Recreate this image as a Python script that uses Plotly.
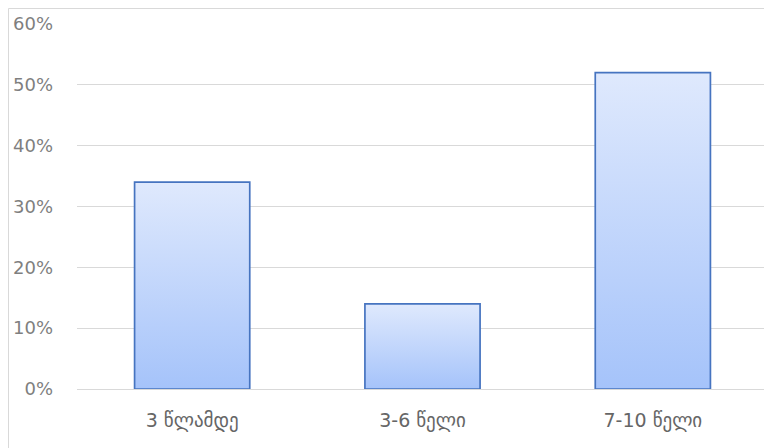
import plotly.graph_objects as go

categories = ["3 წლამდე", "3-6 წელი", "7-10 წელი"]
values = [0.34, 0.14, 0.52]
y_tickvals = [0, 0.1, 0.2, 0.3, 0.4, 0.5, 0.6]
y_ticktext = ["0%", "10%", "20%", "30%", "40%", "50%", "60%"]

W, H = 764, 440
L, R, T, B = 69, 4, 16, 59
half = 0.25

fig = go.Figure()
for i, v in enumerate(values):
    fig.add_trace(go.Scatter(
        x=[i - half, i - half, i + half, i + half, i - half],
        y=[0, v, v, 0, 0],
        mode="lines",
        fill="toself",
        line=dict(color="#4674c0", width=1.7),
        fillgradient=dict(type="vertical",
                          colorscale=[[0, "#a5c3fa"], [1, "#dfe9fd"]]),
        hoverinfo="skip",
        showlegend=False,
    ))

pw = W - L - R
ph = H - T - B
fig.add_shape(type="rect", xref="paper", yref="paper",
              x0=(0.5 - L) / pw, x1=(W + 20 - L) / pw,
              y0=-(B + 20) / ph, y1=1 + (T - 0.5) / ph,
              line=dict(color="#d9d9d9", width=1), layer="below")

yfont = dict(family="DejaVu Sans", size=18, color="#7f7f7f")
xfont = dict(family="DejaVu Sans", size=19, color="#666666")
fig.update_layout(
    width=W, height=H,
    margin=dict(l=L, r=R, t=T, b=B, autoexpand=False),
    paper_bgcolor="white", plot_bgcolor="white",
    font=yfont,
    xaxis=dict(range=[-0.5, 2.5], tickvals=[0, 1, 2], ticktext=categories,
               showgrid=False, zeroline=False, showline=False, ticks="",
               ticklabelstandoff=18, tickfont=xfont, fixedrange=True,
               automargin=False),
    yaxis=dict(range=[0, 0.6], tickvals=y_tickvals, ticktext=y_ticktext,
               showgrid=True, gridcolor="#d9d9d9", gridwidth=1.3,
               zeroline=True, zerolinecolor="#d9d9d9", zerolinewidth=1.3,
               showline=False, ticks="", ticklabelstandoff=23,
               tickfont=yfont, fixedrange=True, automargin=False),
)

fig.write_html("out.html")
